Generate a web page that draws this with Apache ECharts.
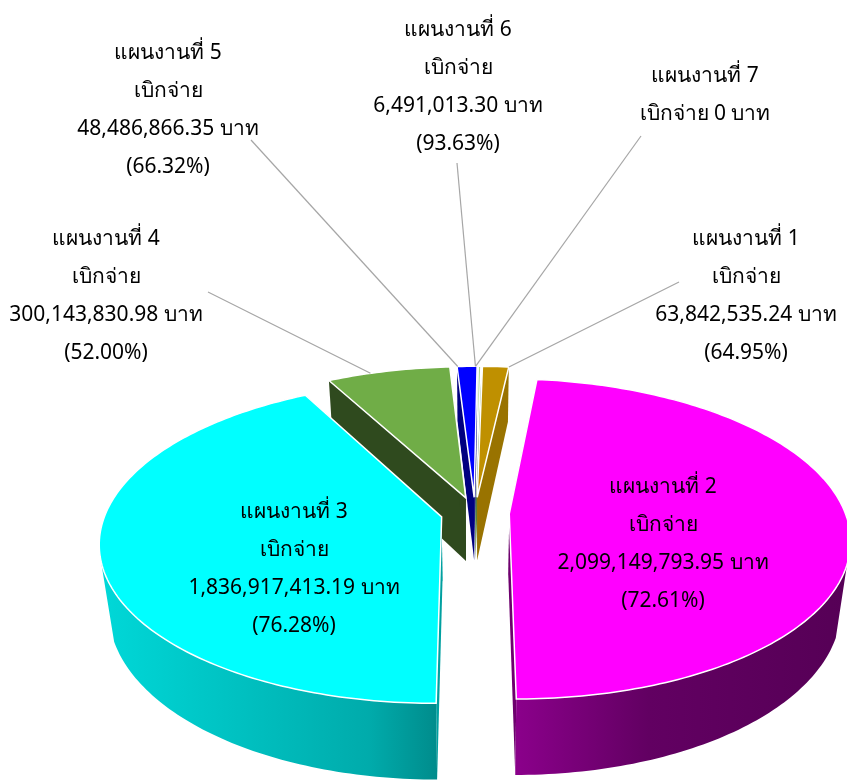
<!DOCTYPE html>
<html>
<head>
<meta charset="utf-8">
<script src="https://cdn.jsdelivr.net/npm/echarts@6/dist/echarts.min.js"></script>
<style>
  html, body { margin: 0; padding: 0; background: #fff; }
  #chart { width: 847px; height: 780px; }
</style>
</head>
<body>
<div id="chart"></div>
<script>
var planNames = ['แผนงานที่ 1', 'แผนงานที่ 2', 'แผนงานที่ 3', 'แผนงานที่ 4', 'แผนงานที่ 5', 'แผนงานที่ 6', 'แผนงานที่ 7'];
var amounts = [63842535.24, 2099149793.95, 1836917413.19, 300143830.98, 48486866.35, 6491013.30, 0];
var percents = [64.95, 72.61, 76.28, 52.00, 66.32, 93.63, null];

// look of the slices
var topColors = ['#bf9000', '#ff00ff', '#00ffff', '#70ad47', '#0000ff', '#a9d18e', '#ffc000'];
var cutColors = ['#997300', '#6e006e', '#00a0a0', '#2f4a1e', '#000080', '#55803a', '#997300'];
var wallStops = {
  1: [[0, '#8b008b'], [0.4, '#620062'], [1, '#560056']],
  2: [[0, '#00d8d8'], [0.8, '#00abab'], [1, '#008c8c']]
};
var drawOrder = [6, 5, 4, 0, 3, 2, 1];

// label centres and where each leader line leaves the label
var labelCentres = [[746, 296], [663, 544], [294, 569], [106, 296], [168, 110], [458, 87], [705, 95]];
var leaderStarts = [[679, 282], null, null, [208, 292], [251, 140], [457, 163], [641, 136]];
var leaderAngles = [6.4, 0, 0, 340.5, 356.7, 360, 360];

var cx = 475, cy = 513, radiusX = 336, radiusY = 156, depth = 64;
var perspective = 0.156, explode = 0.102, rotation = 1.1, bottomShrink = 0.025;
// the outer wall only shows on the near side of the pie
var wallTopFrom = 108, wallTopTo = 255, wallBottomFrom = 110, wallBottomTo = 250;

var total = amounts.reduce(function (a, b) { return a + b; }, 0);

function sliceAngles(i) {
  var before = amounts.slice(0, i).reduce(function (a, b) { return a + b; }, 0);
  return [rotation + before / total * 360, rotation + (before + amounts[i]) / total * 360];
}

function project(x, z, down) {
  var s = 1 / (1 + perspective * z);
  var shrink = 1 - bottomShrink * down / depth;
  return [cx + radiusX * x * s * shrink, cy + (down - radiusY * z) * s];
}

function rimPoint(angle, ox, oz, down) {
  var a = angle * Math.PI / 180;
  return project(ox + Math.sin(a), oz + Math.cos(a), down);
}

function arcPoints(from, to, ox, oz, down) {
  var points = [];
  for (var a = from; a < to; a += 1) {
    points.push(rimPoint(a, ox, oz, down));
  }
  points.push(rimPoint(to, ox, oz, down));
  return points;
}

function labelLines(i) {
  var amount = amounts[i].toLocaleString('en-US', { minimumFractionDigits: 2, maximumFractionDigits: 2 });
  if (amounts[i] === 0) {
    return [planNames[i], 'เบิกจ่าย 0 บาท'];
  }
  return [planNames[i], 'เบิกจ่าย', amount + ' บาท', '(' + percents[i].toFixed(2) + '%)'];
}

function renderSlice(params, api) {
  var i = api.value(0);
  var range = sliceAngles(i);
  var mid = (range[0] + range[1]) / 2 * Math.PI / 180;
  var ox = Math.sin(mid) * explode;
  var oz = Math.cos(mid) * explode;
  var order = drawOrder.indexOf(i) * 10 + 1;
  var children = [];

  if (api.value(1) > 0) {
    var apexTop = project(ox, oz, 0);
    var apexBottom = project(ox, oz, depth);

    [range[0], range[1]].forEach(function (edge) {
      children.push({
        type: 'polygon',
        z2: order,
        shape: { points: [apexTop, rimPoint(edge, ox, oz, 0), rimPoint(edge, ox, oz, depth), apexBottom] },
        style: { fill: cutColors[i] }
      });
    });

    if (wallStops[i]) {
      var wallTop = arcPoints(Math.max(range[0], wallTopFrom), Math.min(range[1], wallTopTo), ox, oz, 0);
      var wallBottom = arcPoints(Math.max(range[0], wallBottomFrom), Math.min(range[1], wallBottomTo), ox, oz, depth);
      children.push({
        type: 'polygon',
        z2: order + 1,
        shape: { points: wallTop.concat(wallBottom.reverse()) },
        style: {
          fill: new echarts.graphic.LinearGradient(0, 0, 1, 0, wallStops[i].map(function (s) {
            return { offset: s[0], color: s[1] };
          }))
        }
      });
    }

    children.push({
      type: 'polygon',
      z2: order + 2,
      shape: { points: [apexTop].concat(arcPoints(range[0], range[1], ox, oz, 0)) },
      style: { fill: topColors[i], stroke: '#fff', lineWidth: 1.5, lineJoin: 'miter' }
    });
  }

  if (leaderStarts[i]) {
    var end = rimPoint(leaderAngles[i], ox, oz, 0);
    children.push({
      type: 'line',
      z2: 90,
      shape: { x1: leaderStarts[i][0], y1: leaderStarts[i][1], x2: end[0], y2: end[1] },
      style: { stroke: '#a6a6a6', lineWidth: 1.2 }
    });
  }

  var lines = labelLines(i);
  lines.forEach(function (line, n) {
    children.push({
      type: 'text',
      z2: 100,
      style: {
        text: line,
        x: labelCentres[i][0],
        y: labelCentres[i][1] + (n - (lines.length - 1) / 2) * 38,
        align: 'center',
        verticalAlign: 'middle',
        fill: '#000',
        font: '21px Tahoma, "Noto Sans", "DejaVu Sans", sans-serif'
      }
    });
  });

  return { type: 'group', children: children };
}

var chart = echarts.init(document.getElementById('chart'), null, { renderer: 'canvas' });
chart.setOption({
  animation: false,
  backgroundColor: '#fff',
  series: [{
    type: 'custom',
    coordinateSystem: 'none',
    silent: true,
    renderItem: renderSlice,
    data: amounts.map(function (v, i) { return [i, v]; })
  }]
});
</script>
</body>
</html>
